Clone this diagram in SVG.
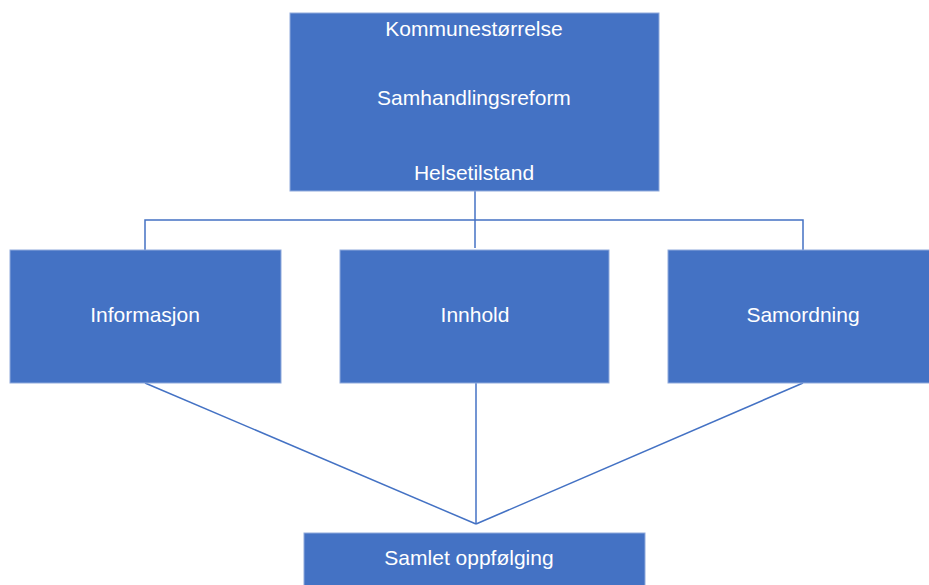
<svg xmlns="http://www.w3.org/2000/svg" width="929" height="585" viewBox="0 0 929 585">
<style>
.box{fill:#4472C4;stroke:#8FAADC;stroke-width:1}
.lbl{fill:#FFFFFF;font-family:"Liberation Sans",Arial,sans-serif;font-size:21px;text-anchor:middle}
.conn{stroke:#4472C4;stroke-width:1.5;fill:none}
</style>
<rect width="929" height="585" fill="#FFFFFF"/>
<g id="connectors">
<polyline class="conn" points="475,191 475,248"/>
<polyline class="conn" points="145,250 145,220 803,220 803,250"/>
<line class="conn" x1="145" y1="383" x2="476" y2="524"/>
<line class="conn" x1="476" y1="383" x2="476" y2="524"/>
<line class="conn" x1="803" y1="383" x2="476" y2="524"/>
</g>
<g id="top">
<rect class="box" x="290" y="13" width="369" height="178"/>
<text class="lbl" x="474" y="36">Kommunestørrelse</text>
<text class="lbl" x="474" y="105">Samhandlingsreform</text>
<text class="lbl" x="474" y="180">Helsetilstand</text>
</g>
<g id="informasjon">
<rect class="box" x="10" y="250" width="271" height="133"/>
<text class="lbl" x="145" y="322">Informasjon</text>
</g>
<g id="innhold">
<rect class="box" x="340" y="250" width="269" height="133"/>
<text class="lbl" x="475" y="322">Innhold</text>
</g>
<g id="samordning">
<rect class="box" x="668" y="250" width="270" height="133"/>
<text class="lbl" x="803" y="322">Samordning</text>
</g>
<g id="samlet">
<rect class="box" x="304" y="533" width="341" height="60"/>
<text class="lbl" x="469" y="565">Samlet oppfølging</text>
</g>
</svg>
